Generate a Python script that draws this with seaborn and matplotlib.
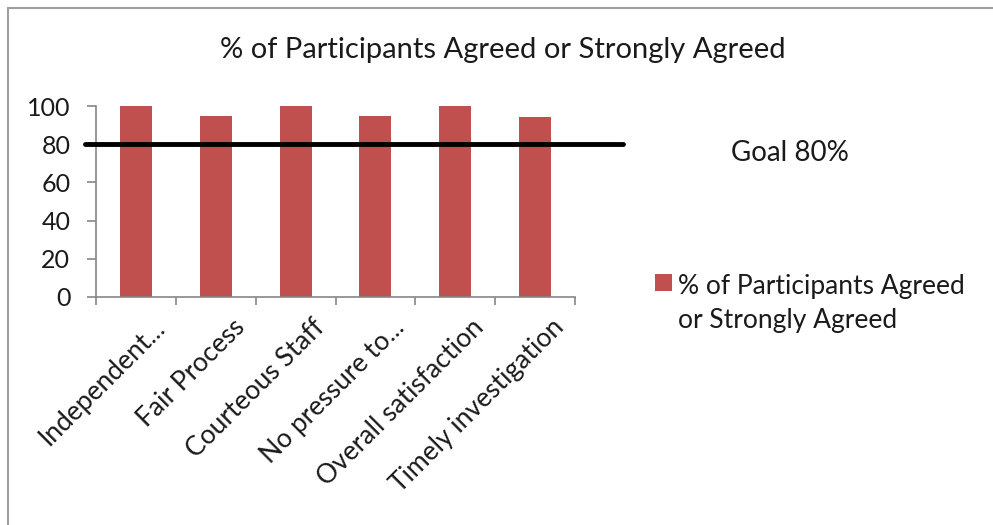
import matplotlib
matplotlib.use("Agg")
import matplotlib.pyplot as plt
import seaborn as sns
import pandas as pd
from matplotlib.patches import Rectangle, Patch
from matplotlib.legend_handler import HandlerPatch
from matplotlib.transforms import ScaledTranslation

categories = ["Independent...", "Fair Process", "Courteous Staff", "No pressure to...",
              "Overall satisfaction", "Timely investigation"]
values = [100, 95, 100, 95, 100, 94]
goal = 80
series_name = "% of Participants Agreed or Strongly Agreed"
yticks = [0, 20, 40, 60, 80, 100]

sns.set_theme(style="white")
plt.rcParams['font.family'] = ['Lato', 'DejaVu Sans']

df = pd.DataFrame({"cat": categories, "val": values})

fig = plt.figure(figsize=(9.93, 5.25), dpi=100)
W, H = 993, 525
ax = fig.add_axes([96 / W, 1 - 297 / H, 479 / W, 191 / H])

sns.barplot(data=df, x="cat", y="val", color="#C0504D", width=0.4,
            saturation=1, linewidth=0, ax=ax)
ax.set_xlim(-0.5, len(categories) - 0.5)
ax.set_ylim(0, 100)
ax.set_yticks(yticks)
ax.set_yticklabels([str(t) for t in yticks], fontsize=18, color="#1a1a1a")
ax.set_xlabel("")
ax.set_ylabel("")

# ticks at category boundaries
ax.set_xticks([i - 0.5 for i in range(len(categories) + 1)], minor=False)
ax.set_xticklabels([])
ax.set_xticks(range(len(categories)), minor=True)
ax.set_xticklabels(categories, minor=True, rotation=45, ha="right",
                   rotation_mode="anchor", fontsize=19, color="#1a1a1a")
ax.tick_params(axis="x", which="minor", bottom=False, length=0, pad=12)
ax.tick_params(axis="x", which="major", bottom=True, length=6, width=1.2,
               color="#868686", direction="out")
ax.tick_params(axis="y", left=True, length=6.5, width=1.2, color="#868686",
               direction="out", pad=12)
shift = ScaledTranslation(0.16, -0.01, fig.dpi_scale_trans)
for lbl in ax.get_xticklabels(minor=True):
    lbl.set_transform(lbl.get_transform() + shift)

for s in ["top", "right"]:
    ax.spines[s].set_visible(False)
for s in ["left", "bottom"]:
    ax.spines[s].set_color("#868686")
    ax.spines[s].set_linewidth(1.2)

# goal line
ax.axhline(goal, xmin=-0.023, xmax=1.10, color="black", linewidth=3.5, clip_on=False, zorder=5)

fig.text(790 / W, 1 - 153 / H, "Goal 80%", ha="center", va="center", fontsize=20, color="#1a1a1a")
fig.text(503 / W, 1 - 50 / H, series_name, ha="center", va="center", fontsize=21, color="#1a1a1a")


def top_patch(legend, orig_handle, xdescent, ydescent, width, height, fontsize):
    return Rectangle((-xdescent + 2.5, -ydescent + 15.5), width, height)


handle = Patch(facecolor="#C0504D", edgecolor="none")
leg = fig.legend([handle], ["% of Participants Agreed\nor Strongly Agreed"],
                 loc="upper left", bbox_to_anchor=(628 / W, 1 - 250 / H), frameon=False,
                 fontsize=19, handlelength=0.64, handleheight=0.64, handletextpad=0.35,
                 labelcolor="#1a1a1a",
                 handler_map={Patch: HandlerPatch(patch_func=top_patch)})
for t in leg.get_texts():
    t.set_linespacing(1.45)

# chart frame
fig.patches.append(Rectangle((8 / W, -0.1), 1.2, 1 - 8 / H + 0.1, transform=fig.transFigure,
                             fill=False, edgecolor="#A0A0A0", linewidth=1.5))

fig.savefig("out.png", dpi=100)
